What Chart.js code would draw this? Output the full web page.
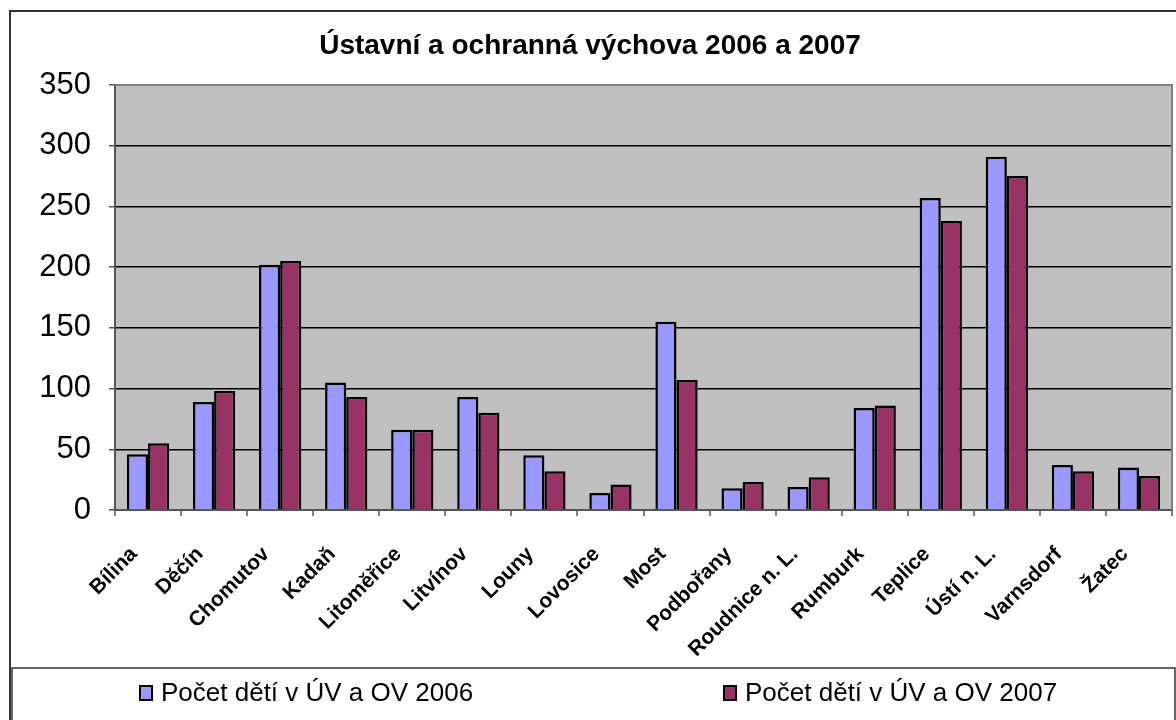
<!DOCTYPE html>
<html>
<head>
<meta charset="utf-8">
<script src="https://cdn.jsdelivr.net/npm/chart.js@4.4.0/dist/chart.umd.min.js"></script>
<style>
html,body{margin:0;padding:0;background:#fff;}
#wrap{position:relative;width:1176px;height:720px;}
</style>
</head>
<body>
<div id="wrap"><canvas id="c" width="1176" height="720"></canvas></div>
<script>
const titleText = "Ústavní a ochranná výchova 2006 a 2007";
const categories = ["Bílina","Děčín","Chomutov","Kadaň","Litoměřice","Litvínov","Louny","Lovosice","Most","Podbořany","Roudnice n. L.","Rumburk","Teplice","Ústí n. L.","Varnsdorf","Žatec"];
const seriesNames = ["Počet dětí v ÚV a OV 2006","Počet dětí v ÚV a OV 2007"];
const values2006 = [46, 89, 202, 105, 66, 93, 45, 14, 155, 18, 19, 84, 257, 291, 37, 35];
const values2007 = [55, 98, 205, 93, 66, 80, 32, 21, 107, 23, 27, 86, 238, 275, 32, 28];
const yTicks = [0, 50, 100, 150, 200, 250, 300, 350];
const colors = ["#9999FF", "#993366"];

const FONT = "'Liberation Sans', Arial, sans-serif";

const framePlugin = {
  id: 'frame',
  beforeDraw(chart) {
    const ctx = chart.ctx;
    ctx.save();
    ctx.fillStyle = '#fff';
    ctx.fillRect(0, 0, chart.width, chart.height);
    const a = chart.chartArea;
    ctx.fillStyle = '#C0C0C0';
    ctx.fillRect(a.left, a.top, a.right - a.left, a.bottom - a.top);
    ctx.restore();
  },
  afterDraw(chart) {
    const ctx = chart.ctx;
    const a = chart.chartArea;
    ctx.save();
    ctx.strokeStyle = '#808080';
    ctx.lineWidth = 2;
    ctx.beginPath();
    ctx.moveTo(a.left, a.top);
    ctx.lineTo(a.right, a.top);
    ctx.lineTo(a.right, a.bottom);
    ctx.stroke();
    ctx.strokeStyle = '#333';
    ctx.lineWidth = 2;
    ctx.beginPath();
    ctx.moveTo(10, 720);
    ctx.lineTo(10, 11);
    ctx.lineTo(1176, 11);
    ctx.stroke();
    ctx.strokeStyle = '#333';
    ctx.lineWidth = 1.5;
    ctx.beginPath();
    ctx.moveTo(12, 720);
    ctx.lineTo(12, 668);
    ctx.lineTo(1175, 668);
    ctx.lineTo(1175, 720);
    ctx.stroke();
    ctx.fillStyle = '#000';
    ctx.font = "bold 28px " + FONT;
    ctx.textAlign = 'center';
    ctx.textBaseline = 'middle';
    ctx.fillText(titleText, 590, 46);
    const ds = chart.data.datasets;
    const lx = [140, 724];
    ctx.font = "26px " + FONT;
    ctx.textAlign = 'left';
    ds.forEach((d, i) => {
      ctx.fillStyle = d.backgroundColor;
      ctx.fillRect(lx[i], 686, 12, 14);
      ctx.strokeStyle = '#000';
      ctx.lineWidth = 2;
      ctx.strokeRect(lx[i], 686, 12, 14);
      ctx.fillStyle = '#000';
      ctx.fillText(d.label, lx[i] + 21, 694);
    });
    ctx.restore();
  }
};

new Chart(document.getElementById('c'), {
  type: 'bar',
  data: {
    labels: categories,
    datasets: [
      { label: seriesNames[0], data: values2006, backgroundColor: colors[0], borderColor: '#000', borderWidth: 2.5, borderSkipped: 'bottom' },
      { label: seriesNames[1], data: values2007, backgroundColor: colors[1], borderColor: '#000', borderWidth: 2.5, borderSkipped: 'bottom' }
    ]
  },
  options: {
    responsive: false,
    animation: false,
    devicePixelRatio: 1,
    layout: { padding: { left: 10, right: 4, top: 85, bottom: 55 } },
    plugins: { legend: { display: false }, title: { display: false }, tooltip: { enabled: false } },
    datasets: { bar: { categoryPercentage: 0.64, barPercentage: 1.0 } },
    scales: {
      x: {
        afterFit(s) { s.height = 155; s.paddingLeft = 0; s.paddingRight = 0; },
        grid: { offset: true, drawOnChartArea: false, drawTicks: true, tickLength: 6, tickColor: '#808080', lineWidth: 2 },
        border: { color: '#555', width: 2 },
        ticks: { color: '#000', font: { family: FONT, size: 21, weight: 'bold' }, minRotation: 45, maxRotation: 45, autoSkip: false, padding: 26, labelOffset: -14 }
      },
      y: {
        min: 0, max: 350,
        afterFit(s) { s.width = 105; },
        afterBuildTicks(s) { s.ticks = yTicks.map(v => ({ value: v })); },
        grid: { color: '#000', lineWidth: 1.5, tickLength: 6, tickColor: '#555' },
        border: { color: '#555', width: 2 },
        ticks: { color: '#000', font: { family: FONT, size: 31 }, padding: 18, stepSize: 50 }
      }
    }
  },
  plugins: [framePlugin]
});
</script>
</body>
</html>
